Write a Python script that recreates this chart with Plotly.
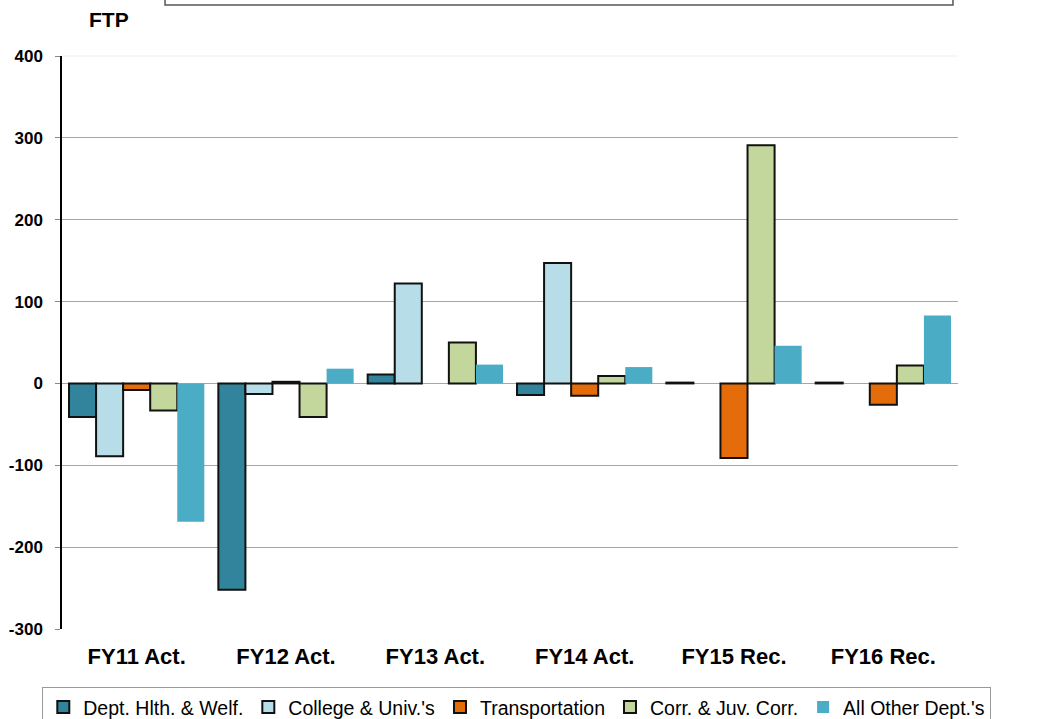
import plotly.graph_objects as go

categories = ["FY11 Act.", "FY12 Act.", "FY13 Act.", "FY14 Act.", "FY15 Rec.", "FY16 Rec."]
dhw = [-41, -252, 11, -14, 1, 1]
college = [-89, -13, 122, 147, None, None]
transport = [-8, 2, None, -15, -91, -26]
corr = [-33, -41, 50, 9, 291, 22]
other = [-169, 18, 23, 20, 46, 83]

y_tick_vals = [-300, -200, -100, 0, 100, 200, 300, 400]
y_tick_text = ["-300", "-200", "-100", "0", "100", "200", "300", "400"]

series = [
    ("Dept. Hlth. & Welf.", dhw, "#31849B", 2),
    ("College & Univ.'s", college, "#B7DDE8", 2),
    ("Transportation", transport, "#E46C0A", 2),
    ("Corr. & Juv. Corr.", corr, "#C3D69B", 2),
    ("All Other Dept.'s", other, "#4BACC6", 0),
]

y_min, y_max = -300, 400
font_family = "Liberation Sans, Arial, sans-serif"

fig = go.Figure()
for name, vals, color, lw in series:
    fig.add_trace(go.Bar(
        name=name, x=categories, y=vals,
        marker=dict(color=color, line=dict(color="#111111", width=lw)),
    ))

zero_pos = (0 - y_min) / (y_max - y_min)

fig.update_layout(
    width=1037, height=719,
    margin=dict(l=62, r=79, t=56, b=90, autoexpand=False),
    paper_bgcolor="white", plot_bgcolor="white",
    barmode="group", bargap=0.094, bargroupgap=0,
    font=dict(family=font_family, color="black"),
    showlegend=True,
    legend=dict(
        orientation="h", x=-0.022, xanchor="left", y=-0.101, yanchor="top",
        bordercolor="#999999", borderwidth=1,
        font=dict(size=19.5, family=font_family),
        traceorder="normal",
        itemwidth=30,
    ),
    xaxis=dict(
        type="category", range=[-0.5, 5.5],
        showline=False, showgrid=False, zeroline=False,
        ticks="", tickfont=dict(size=22, family=font_family, weight="bold"),
        ticklabelstandoff=12,
    ),
    xaxis2=dict(
        overlaying="x", anchor="free", position=zero_pos,
        range=[-0.5, 5.5], showline=True, linecolor="black", linewidth=1.5,
        tickmode="array", tickvals=[0.5, 1.5, 2.5, 3.5, 4.5, 5.5],
        ticks="outside", ticklen=6, tickcolor="#888888", showticklabels=False,
        showgrid=False, zeroline=False,
    ),
    yaxis=dict(
        range=[y_min, y_max],
        tickmode="array", tickvals=y_tick_vals, ticktext=y_tick_text,
        showline=True, linecolor="black", linewidth=1.5,
        ticks="outside", ticklen=5, tickcolor="#888888",
        showgrid=True, gridcolor="#A6A6A6", gridwidth=1,
        zeroline=False,
        tickfont=dict(size=17, family=font_family, weight="bold"),
        ticklabelstandoff=9,
    ),
    shapes=[
        dict(type="rect", xref="paper", yref="paper",
             x0=0.115, x1=0.9944, y0=1.089, y1=1.3,
             line=dict(color="#555555", width=1.5), fillcolor="rgba(0,0,0,0)"),
        dict(type="line", xref="paper", yref="paper",
             x0=0, x1=1, y0=1, y1=1,
             line=dict(color="#EEEEEE", width=1)),
    ],
    annotations=[
        dict(text="<b>FTP</b>", xref="paper", yref="paper",
             x=0.0, y=1.063, xanchor="left", yanchor="middle",
             xshift=25, showarrow=False, font=dict(size=21, family=font_family)),
    ],
)

fig.write_html("out.html", config={"displayModeBar": False},
               post_script="document.body.style.margin='0';")
